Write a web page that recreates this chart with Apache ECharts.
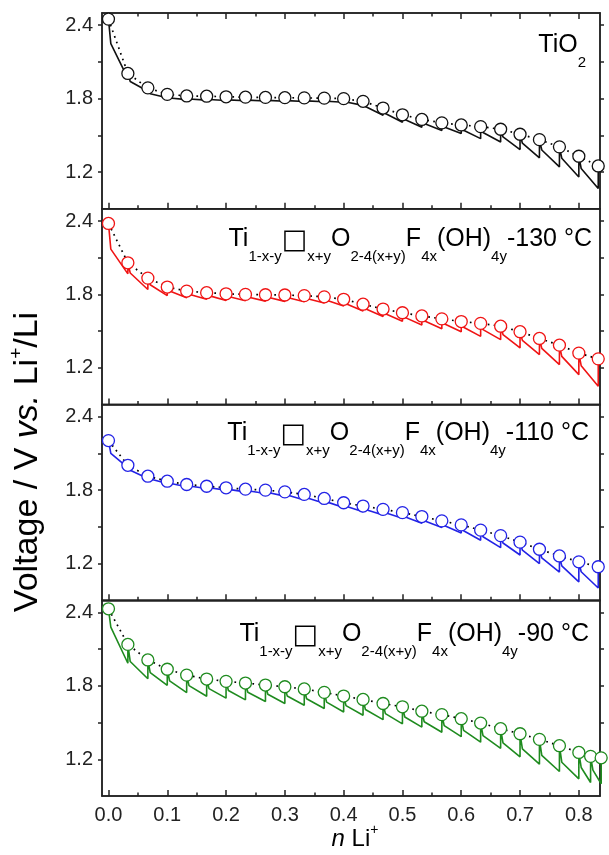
<!DOCTYPE html>
<html><head><meta charset="utf-8">
<script src="https://cdn.jsdelivr.net/npm/echarts@6/dist/echarts.min.js"></script>
<style>html,body{margin:0;padding:0;background:#fff}#c{width:609px;height:855px}</style>
</head><body><div id="c"></div>
<script>
// ---------- data ----------
const nLi = [0, 0.033, 0.067, 0.1, 0.133, 0.167, 0.2, 0.233, 0.267, 0.3, 0.333, 0.367, 0.4, 0.433, 0.467, 0.5, 0.533, 0.567, 0.6, 0.633, 0.667, 0.7, 0.733, 0.767, 0.8, 0.833];
const nLiGreen = [0, 0.033, 0.067, 0.1, 0.133, 0.167, 0.2, 0.233, 0.267, 0.3, 0.333, 0.367, 0.4, 0.433, 0.467, 0.5, 0.533, 0.567, 0.6, 0.633, 0.667, 0.7, 0.733, 0.767, 0.8, 0.82, 0.838];

// equilibrium (open circles)
const tio2Ocv = [2.45, 2.006, 1.888, 1.835, 1.822, 1.82, 1.815, 1.812, 1.81, 1.808, 1.806, 1.804, 1.80, 1.778, 1.723, 1.668, 1.63, 1.602, 1.585, 1.571, 1.55, 1.509, 1.465, 1.406, 1.329, 1.25];
// voltage just after the start of each pulse
const tio2Knee = [2.25, 1.94, 1.84, 1.805, 1.797, 1.793, 1.79, 1.788, 1.786, 1.784, 1.782, 1.779, 1.772, 1.735, 1.679, 1.629, 1.596, 1.569, 1.542, 1.523, 1.487, 1.436, 1.38, 1.313, 1.229];
// voltage at the end of each pulse
const tio2Low = [null, 1.965, 1.86, 1.808, 1.792, 1.788, 1.785, 1.783, 1.781, 1.779, 1.777, 1.774, 1.77, 1.745, 1.665, 1.607, 1.566, 1.54, 1.515, 1.473, 1.446, 1.384, 1.316, 1.242, 1.16, 1.065];

const t130Ocv = [2.38, 2.058, 1.933, 1.86, 1.827, 1.814, 1.805, 1.80, 1.797, 1.795, 1.79, 1.78, 1.76, 1.72, 1.68, 1.65, 1.624, 1.60, 1.578, 1.563, 1.54, 1.495, 1.44, 1.385, 1.32, 1.273];
const t130Knee = [2.17, 1.975, 1.879, 1.827, 1.802, 1.79, 1.783, 1.779, 1.776, 1.774, 1.767, 1.752, 1.724, 1.682, 1.642, 1.612, 1.584, 1.56, 1.532, 1.512, 1.472, 1.424, 1.359, 1.293, 1.217];
const t130Low = [null, 1.968, 1.84, 1.79, 1.773, 1.76, 1.75, 1.748, 1.745, 1.743, 1.74, 1.73, 1.705, 1.664, 1.62, 1.58, 1.55, 1.52, 1.495, 1.457, 1.43, 1.362, 1.308, 1.226, 1.144, 1.049];

const t110Ocv = [2.205, 2.003, 1.914, 1.873, 1.846, 1.832, 1.819, 1.808, 1.80, 1.786, 1.765, 1.732, 1.697, 1.67, 1.643, 1.616, 1.584, 1.549, 1.516, 1.473, 1.428, 1.375, 1.317, 1.262, 1.214, 1.174];
const t110Knee = [2.1, 1.962, 1.891, 1.856, 1.834, 1.82, 1.806, 1.795, 1.781, 1.761, 1.737, 1.704, 1.669, 1.642, 1.615, 1.583, 1.55, 1.511, 1.468, 1.419, 1.368, 1.309, 1.246, 1.181, 1.133];
const t110Low = [null, 1.984, 1.895, 1.854, 1.827, 1.814, 1.80, 1.786, 1.773, 1.751, 1.719, 1.692, 1.659, 1.624, 1.597, 1.57, 1.53, 1.495, 1.45, 1.39, 1.33, 1.27, 1.2, 1.13, 1.05, 1.0];

const t90Ocv = [2.43, 2.139, 2.012, 1.936, 1.888, 1.856, 1.837, 1.823, 1.807, 1.793, 1.775, 1.747, 1.717, 1.689, 1.656, 1.629, 1.593, 1.565, 1.532, 1.496, 1.45, 1.409, 1.363, 1.311, 1.256, 1.224, 1.212];
const t90Knee = [2.28, 1.999, 1.909, 1.841, 1.802, 1.778, 1.762, 1.748, 1.732, 1.718, 1.695, 1.667, 1.639, 1.607, 1.573, 1.546, 1.507, 1.475, 1.436, 1.393, 1.335, 1.285, 1.232, 1.176, 1.133, 1.112];
const t90Low = [null, 1.985, 1.858, 1.805, 1.745, 1.715, 1.7, 1.686, 1.673, 1.656, 1.642, 1.615, 1.587, 1.56, 1.524, 1.49, 1.463, 1.421, 1.385, 1.34, 1.29, 1.22, 1.16, 1.1, 1.04, 1.01, 1.0];

const kneeDx = 0.004;

const xMajorTicks = [0, 0.1, 0.2, 0.3, 0.4, 0.5, 0.6, 0.7, 0.8];
const xMinorTicks = [0.05, 0.15, 0.25, 0.35, 0.45, 0.55, 0.65, 0.75];
const yTicks = [1.2, 1.5, 1.8, 2.1, 2.4];
const yLabels = [1.2, 1.8, 2.4];

const panelColors = ['#111111', '#f01414', '#2323e6', '#1f8b1f'];
const panelTemps = [null, '-130 °C', '-110 °C', '-90 °C'];

// ---------- build ----------
const FONT = '"Liberation Sans", Arial, Helvetica, sans-serif';
const AX = '#222';
const panels = [
  {x: nLi, ocv: tio2Ocv, knee: tio2Knee, low: tio2Low},
  {x: nLi, ocv: t130Ocv, knee: t130Knee, low: t130Low},
  {x: nLi, ocv: t110Ocv, knee: t110Knee, low: t110Low},
  {x: nLiGreen, ocv: t90Ocv, knee: t90Knee, low: t90Low}
];
const panelTops = [13, 208.75, 404.5, 600.25];
const panelH = 195.75;

function sawtooth(xs, ocv, knee, low) {
  const pts = [[xs[0], ocv[0]]];
  for (let i = 0; i < xs.length - 1; i++) {
    pts.push([xs[i] + kneeDx, knee[i]]);
    pts.push([xs[i + 1], low[i + 1]]);
    pts.push([xs[i + 1], ocv[i + 1]]);
  }
  return pts;
}

const grids = [], xAxes = [], yAxes = [], series = [];
const XMIN = -0.011, XMAX = 0.836;
function xAxisMain(p, pos, labels) {
  return {
    type: 'value', gridIndex: p, position: pos, min: XMIN, max: XMAX,
    axisLine: {show: true, onZero: false, lineStyle: {color: AX, width: 1.5}},
    axisTick: {show: true, inside: true, length: 6, customValues: xMajorTicks, lineStyle: {color: AX, width: 1.5}},
    axisLabel: {show: labels, customValues: xMajorTicks, formatter: v => v.toFixed(1), fontSize: 20, color: AX, fontFamily: FONT, margin: 9},
    splitLine: {show: false}
  };
}
function xAxisMinor(p, pos) {
  return {
    type: 'value', gridIndex: p, position: pos, min: XMIN, max: XMAX,
    axisLine: {show: false, onZero: false},
    axisTick: {show: true, inside: true, length: 3.5, customValues: xMinorTicks, lineStyle: {color: AX, width: 1.5}},
    axisLabel: {show: false},
    splitLine: {show: false}
  };
}
function yAxis(p, pos) {
  return {
    type: 'value', gridIndex: p, position: pos, min: 0.9, max: 2.5,
    axisLine: {show: true, onZero: false, lineStyle: {color: AX, width: 1.5}},
    axisTick: {show: true, inside: false, length: 4, customValues: yTicks, lineStyle: {color: AX, width: 1.5}},
    axisLabel: {show: pos === 'left', customValues: yLabels, formatter: v => v.toFixed(1), fontSize: 20, color: AX, fontFamily: FONT, margin: 9},
    splitLine: {show: false}
  };
}

panels.forEach((pd, p) => {
  grids.push({left: 102, right: 9, top: panelTops[p], height: panelH, show: true, borderColor: AX, borderWidth: 1.5, backgroundColor: 'transparent'});
  const xi = xAxes.length;
  xAxes.push(xAxisMain(p, 'bottom', p === 3));
  xAxes.push(xAxisMinor(p, 'bottom'));
  if (p === 0) {
    xAxes.push(xAxisMain(p, 'top', false));
    xAxes.push(xAxisMinor(p, 'top'));
  }
  const yi = yAxes.length;
  yAxes.push(yAxis(p, 'left'));
  yAxes.push(yAxis(p, 'right'));
  const col = panelColors[p];
  series.push({
    type: 'line', xAxisIndex: xi, yAxisIndex: yi, data: sawtooth(pd.x, pd.ocv, pd.knee, pd.low),
    symbol: 'none', lineStyle: {color: col, width: 1.6}, z: 2, silent: true, animation: false
  });
  series.push({
    type: 'line', xAxisIndex: xi, yAxisIndex: yi, data: pd.x.map((x, i) => [x, pd.ocv[i]]),
    symbol: 'circle', symbolSize: 12, showSymbol: true, clip: false,
    lineStyle: {color: '#000', width: 1.7, type: [1.7, 4.3]},
    itemStyle: {color: '#ffffff', borderColor: col, borderWidth: 1.3},
    z: 3, silent: true, animation: false
  });
});

function chemRich(col) {
  return {
    m: {fontSize: 25, lineHeight: 28, verticalAlign: 'top', color: col, fontFamily: FONT},
    q: {fontSize: 27, lineHeight: 28, verticalAlign: 'top', color: col, fontFamily: '"DejaVu Sans", sans-serif'},
    s: {fontSize: 15, lineHeight: 16, padding: [22, 0, 0, 0], verticalAlign: 'top', color: col, fontFamily: FONT}
  };
}
const graphics = [];
graphics.push({
  type: 'text', right: 609 - 586, top: 47 - 14, silent: true,
  style: {text: '{m|TiO}{s|2}', rich: chemRich(panelColors[0])}
});
const labelRight = [null, 592, 589, 589];
const labelMid = [null, 241, 435, 636];
for (let p = 1; p < 4; p++) {
  graphics.push({
    type: 'text', right: 609 - labelRight[p], top: labelMid[p] - 14, silent: true,
    style: {text: '{m|Ti}{s|1-x-y}{q|□}{s|x+y}{m|O}{s|2-4(x+y)}{m|F}{s|4x}{m|(OH)}{s|4y}{m|' + panelTemps[p] + '}', rich: chemRich(panelColors[p])}
  });
}
// y title
graphics.push({
  type: 'text', x: 26, y: 462, rotation: Math.PI / 2, silent: true,
  style: {
    text: '{a|Voltage / V }{i|vs.}{a| Li}{u|+}{a|/Li}', align: 'center', verticalAlign: 'middle',
    rich: {
      a: {fontSize: 34, lineHeight: 38, verticalAlign: 'bottom', color: AX, fontFamily: FONT},
      i: {fontSize: 34, lineHeight: 38, verticalAlign: 'bottom', fontStyle: 'italic', color: AX, fontFamily: FONT},
      u: {fontSize: 19, lineHeight: 22, verticalAlign: 'top', color: AX, fontFamily: FONT}
    }
  }
});
// x title
graphics.push({
  type: 'text', x: 355, y: 837, silent: true,
  style: {
    text: '{i|n}{a| Li}{u|+}', align: 'center', verticalAlign: 'middle',
    rich: {
      a: {fontSize: 24, lineHeight: 28, verticalAlign: 'bottom', color: AX, fontFamily: FONT},
      i: {fontSize: 24, lineHeight: 28, verticalAlign: 'bottom', fontStyle: 'italic', color: AX, fontFamily: FONT},
      u: {fontSize: 14, lineHeight: 16, verticalAlign: 'top', color: AX, fontFamily: FONT}
    }
  }
});

const chart = echarts.init(document.getElementById('c'), null, {renderer: 'canvas'});
chart.setOption({
  animation: false,
  backgroundColor: '#fff',
  grid: grids, xAxis: xAxes, yAxis: yAxes, series: series,
  graphic: graphics
});
</script></body></html>
